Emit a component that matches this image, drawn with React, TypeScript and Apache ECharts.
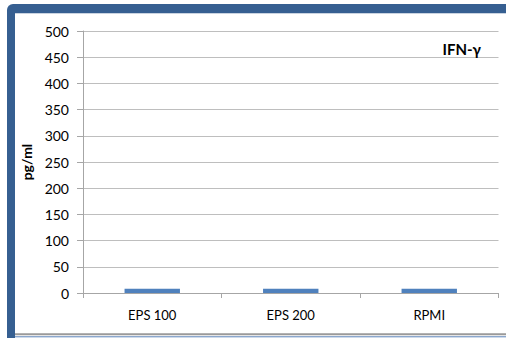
import React, { useEffect, useRef } from "react";
import * as echarts from "echarts";

const categories = ["EPS 100", "EPS 200", "RPMI"];
const values = [8, 8, 8];
const yTicks = { min: 0, max: 500, interval: 50 };
const chartTitle = "IFN-γ";
const yName = "pg/ml";

export default function App() {
  const ref = useRef<HTMLDivElement>(null);
  useEffect(() => {
    if (!ref.current) return;
    const chart = echarts.init(ref.current, undefined, { renderer: "svg" });
    const font = "Lato, 'Open Sans', sans-serif";
    chart.setOption({
      animation: false,
      backgroundColor: "#ffffff",
      textStyle: { fontFamily: font },
      title: {
        text: chartTitle,
        right: 20,
        top: 36,
        textStyle: { fontFamily: font, fontSize: 15, fontWeight: "bold", color: "#000" },
      },
      graphic: [
        { type: "rect", z: -10, silent: true, shape: { x: 7, y: 4, width: 499, height: 334, r: [6, 0, 0, 0] }, style: { fill: "#365F91" } },
        { type: "rect", z: -9, silent: true, shape: { x: 15, y: 13, width: 491, height: 325 }, style: { fill: "#ffffff" } },
        { type: "line", z: -8, silent: true, shape: { x1: 15, y1: 13.5, x2: 506, y2: 13.5 }, style: { stroke: "#C9D3E0", lineWidth: 1 } },
        { type: "line", z: -8, silent: true, shape: { x1: 15, y1: 334.3, x2: 506, y2: 334.3 }, style: { stroke: "#9A9A9A", lineWidth: 2 } },
        { type: "line", z: -8, silent: true, shape: { x1: 15, y1: 336.8, x2: 506, y2: 336.8 }, style: { stroke: "#5B82B8", lineWidth: 1 } },
      ],
      grid: { left: 83, right: 7.5, top: 31, bottom: 45, containLabel: false },
      xAxis: {
        type: "category",
        data: categories,
        axisLine: { lineStyle: { color: "#A6A6A6", width: 1 } },
        axisTick: { show: true, length: 5, alignWithLabel: false, lineStyle: { color: "#A6A6A6" } },
        axisLabel: { fontFamily: font, fontSize: 13, color: "#000", margin: 15 },
        splitLine: { show: false },
      },
      yAxis: {
        type: "value",
        min: yTicks.min,
        max: yTicks.max,
        interval: yTicks.interval,
        name: yName,
        nameLocation: "middle",
        nameRotate: 90,
        nameGap: 43,
        nameTextStyle: { fontFamily: font, fontSize: 14, fontWeight: "bold", color: "#000" },
        axisLine: { show: true, lineStyle: { color: "#A6A6A6", width: 1 } },
        axisTick: { show: true, length: 6, lineStyle: { color: "#A6A6A6" } },
        axisLabel: { fontFamily: font, fontSize: 14, color: "#000", margin: 14 },
        splitLine: { show: true, lineStyle: { color: "#BEBEBE", width: 1 } },
      },
      series: [
        {
          type: "bar",
          data: values,
          barWidth: "40%",
          itemStyle: { color: "#4F81BD" },
        },
      ],
    });
    return () => chart.dispose();
  }, []);
  return (
    <div
      ref={ref}
      style={{ position: "absolute", left: 0, top: 0, width: 506, height: 338 }}
    />
  );
}
